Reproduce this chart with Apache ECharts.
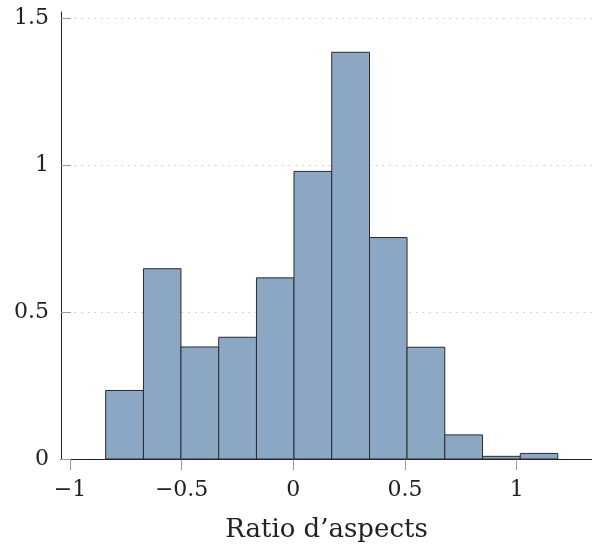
<!DOCTYPE html>
<html>
<head>
<meta charset="utf-8">
<script src="https://cdn.jsdelivr.net/npm/echarts@6/dist/echarts.min.js"></script>
<style>html,body{margin:0;padding:0;background:#fff;}#c{width:592px;height:548px;}</style>
</head>
<body>
<div id="c"></div>
<script>
const binStart = [-0.840, -0.671, -0.503, -0.334, -0.165, 0.003, 0.172, 0.341, 0.509, 0.678, 0.847, 1.016];
const binEnd   = [-0.671, -0.503, -0.334, -0.165, 0.003, 0.172, 0.341, 0.509, 0.678, 0.847, 1.016, 1.184];
const density  = [0.233, 0.647, 0.381, 0.414, 0.616, 0.978, 1.383, 0.753, 0.380, 0.082, 0.009, 0.019];
const xTicks = [-1, -0.5, 0, 0.5, 1];
const yTicks = [0, 0.5, 1, 1.5];
const xName = 'Ratio d\u2019aspects';

const data = binStart.map((s, i) => [s, binEnd[i], density[i]]);
const font = 'DejaVu Serif';
const chart = echarts.init(document.getElementById('c'), null, {renderer: 'canvas'});
chart.setOption({
  animation: false,
  grid: {left: 61, right: 0, top: 12, bottom: 87, containLabel: false},
  xAxis: {
    type: 'value', min: -1.04, max: 1.337,
    name: xName, nameLocation: 'middle', nameGap: 58,
    nameTextStyle: {fontFamily: font, fontSize: 26, color: '#222'},
    axisLine: {show: true, onZero: false, lineStyle: {color: '#222', width: 1}},
    axisTick: {show: true, inside: false, length: 11, customValues: xTicks, lineStyle: {color: '#999', width: 1}},
    axisLabel: {customValues: xTicks, margin: 20, fontFamily: font, fontSize: 22, color: '#222',
      formatter: v => String(v).replace('-', '\u2212')},
    splitLine: {show: false}
  },
  yAxis: {
    type: 'value', min: 0, max: 1.52,
    axisLine: {show: true, onZero: false, lineStyle: {color: '#222', width: 1}},
    axisTick: {show: true, inside: true, length: 10, customValues: yTicks, lineStyle: {color: '#999', width: 1}},
    axisLabel: {customValues: yTicks, margin: 12, fontFamily: font, fontSize: 22, color: '#222'},
    splitLine: {show: true, lineStyle: {color: '#c8c8c8', width: 1.2, type: [1.5, 5.2]}}
  },
  series: [{
    type: 'custom',
    data: data,
    encode: {x: [0, 1], y: 2},
    renderItem: function (params, api) {
      const p0 = api.coord([api.value(0), api.value(2)]);
      const p1 = api.coord([api.value(1), 0]);
      return {
        type: 'rect',
        shape: {x: p0[0], y: p0[1], width: p1[0] - p0[0], height: p1[1] - p0[1]},
        style: {fill: '#8ca7c4', stroke: '#2b2b2b', lineWidth: 1}
      };
    }
  }]
});
</script>
</body>
</html>
